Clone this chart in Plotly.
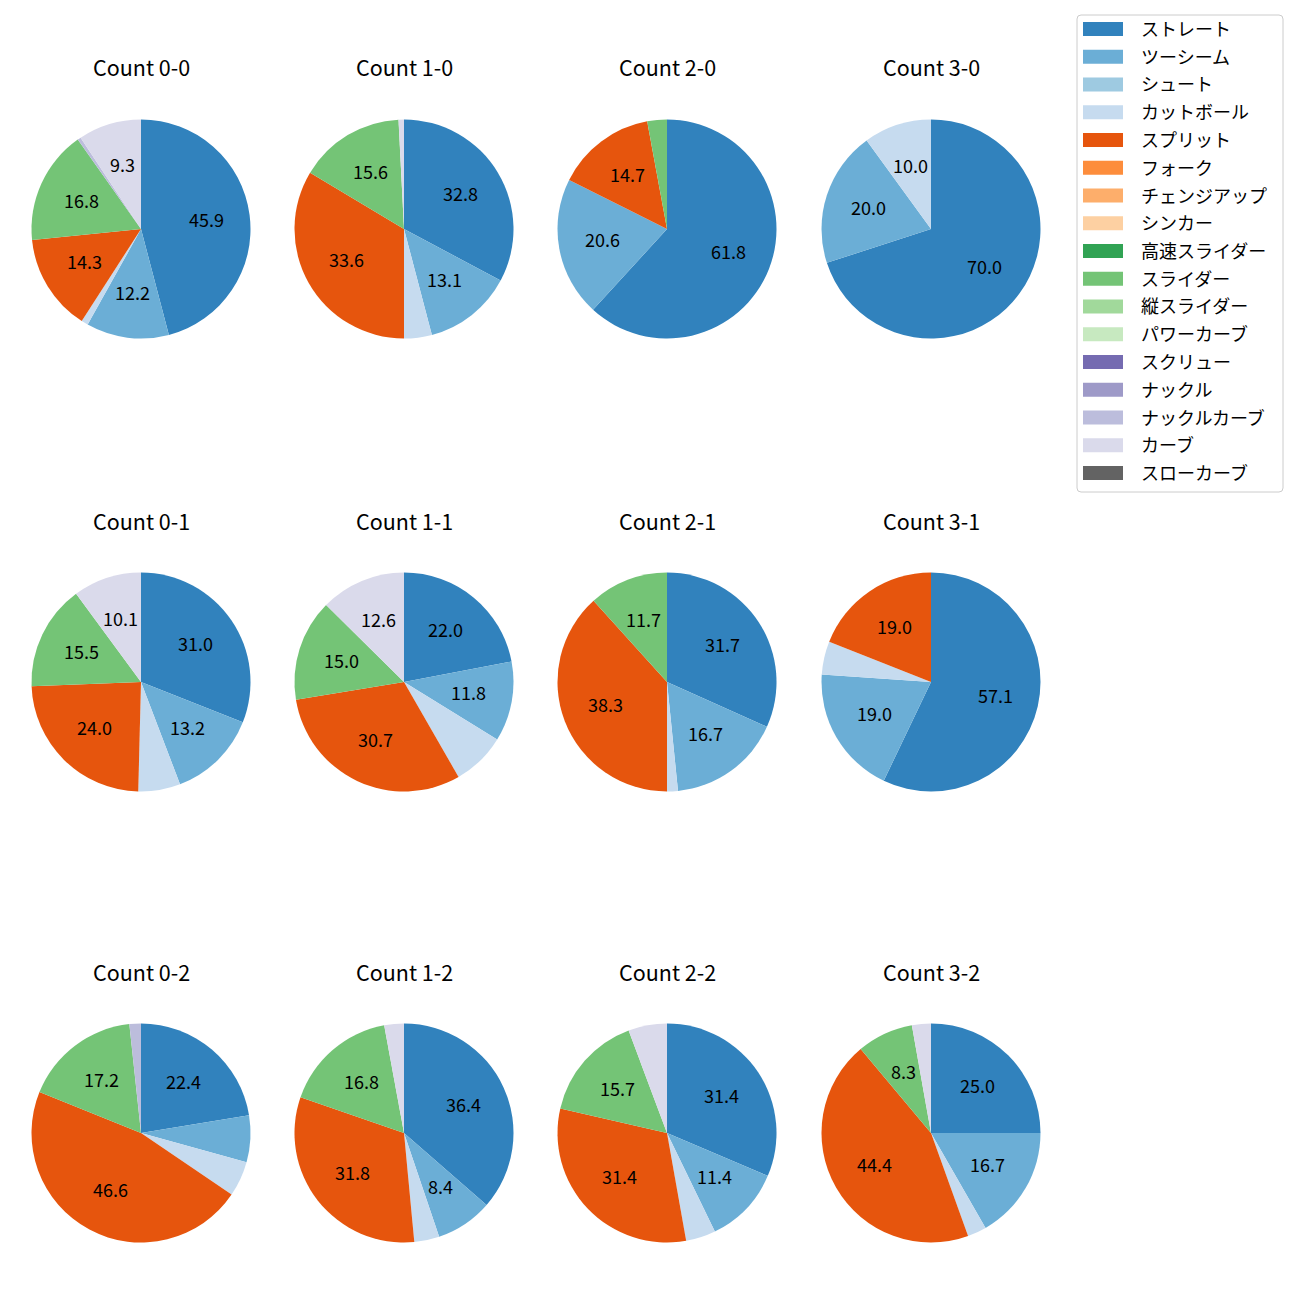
import math
import plotly.graph_objects as go

pitch_types = ["ストレート", "ツーシーム", "シュート", "カットボール", "スプリット", "フォーク",
               "チェンジアップ", "シンカー", "高速スライダー", "スライダー", "縦スライダー",
               "パワーカーブ", "スクリュー", "ナックル", "ナックルカーブ", "カーブ", "スローカーブ"]
colors = ["#3182bd", "#6baed6", "#9ecae1", "#c6dbef", "#e6550d", "#fd8d3c", "#fdae6b", "#fdd0a2",
          "#31a354", "#74c476", "#a1d99b", "#c7e9c0", "#756bb1", "#9e9ac8", "#bcbddc", "#dadaeb",
          "#636363"]

counts = ["0-0", "1-0", "2-0", "3-0",
          "0-1", "1-1", "2-1", "3-1",
          "0-2", "1-2", "2-2", "3-2"]

# percentages per count, keyed by pitch type
count_0_0 = {"ストレート": 45.9, "ツーシーム": 12.2, "カットボール": 1.0, "スプリット": 14.3,
             "スライダー": 16.8, "ナックルカーブ": 0.5, "カーブ": 9.3}
count_1_0 = {"ストレート": 32.8, "ツーシーム": 13.1, "カットボール": 4.1, "スプリット": 33.6,
             "スライダー": 15.6, "カーブ": 0.8}
count_2_0 = {"ストレート": 61.8, "ツーシーム": 20.6, "スプリット": 14.7, "スライダー": 2.9}
count_3_0 = {"ストレート": 70.0, "ツーシーム": 20.0, "カットボール": 10.0}
count_0_1 = {"ストレート": 31.0, "ツーシーム": 13.2, "カットボール": 6.2, "スプリット": 24.0,
             "スライダー": 15.5, "カーブ": 10.1}
count_1_1 = {"ストレート": 22.0, "ツーシーム": 11.8, "カットボール": 7.9, "スプリット": 30.7,
             "スライダー": 15.0, "カーブ": 12.6}
count_2_1 = {"ストレート": 31.7, "ツーシーム": 16.7, "カットボール": 1.6, "スプリット": 38.3,
             "スライダー": 11.7}
count_3_1 = {"ストレート": 57.1, "ツーシーム": 19.0, "カットボール": 4.9, "スプリット": 19.0}
count_0_2 = {"ストレート": 22.4, "ツーシーム": 6.9, "カットボール": 5.2, "スプリット": 46.6,
             "スライダー": 17.2, "ナックルカーブ": 1.7}
count_1_2 = {"ストレート": 36.4, "ツーシーム": 8.4, "カットボール": 3.7, "スプリット": 31.8,
             "スライダー": 16.8, "カーブ": 2.9}
count_2_2 = {"ストレート": 31.4, "ツーシーム": 11.4, "カットボール": 4.4, "スプリット": 31.4,
             "スライダー": 15.7, "カーブ": 5.7}
count_3_2 = {"ストレート": 25.0, "ツーシーム": 16.7, "カットボール": 2.8, "スプリット": 44.4,
             "スライダー": 8.3, "カーブ": 2.8}

data = [count_0_0, count_1_0, count_2_0, count_3_0,
        count_0_1, count_1_1, count_2_1, count_3_1,
        count_0_2, count_1_2, count_2_2, count_3_2]

W = H = 1300
OFF = 8  # page body margin offset
FONT = "Noto Sans CJK JP"
col_cx = [141, 404, 667, 931]
row_cy = [229, 682, 1133]
R = 109.5
LABEL_MIN = 8.0


def px(sx):
    return (sx - OFF) / W


def py(sy):
    return 1 - (sy - OFF) / H


color_of = dict(zip(pitch_types, colors))

fig = go.Figure()
annotations = []
shapes = []
for i, (cnt, d) in enumerate(zip(counts, data)):
    r, c = divmod(i, 4)
    cx, cy = col_cx[c], row_cy[r]
    labels = [p for p in pitch_types if p in d]
    vals = [d[p] for p in labels]
    fig.add_trace(go.Pie(
        labels=labels, values=vals, textinfo="none",
        marker=dict(colors=[color_of[p] for p in labels], line=dict(width=0)),
        sort=False, direction="clockwise", rotation=0,
        domain=dict(x=[px(cx - R), px(cx + R)], y=[py(cy + R), py(cy - R)]),
        showlegend=False, hoverinfo="label+percent",
    ))
    # percentage labels at 0.6 radius along each slice's bisector
    total = sum(vals)
    cum = 0.0
    for v in vals:
        mid = (cum + v / 2) / total * 2 * math.pi
        cum += v
        pct = v / total * 100
        if pct >= LABEL_MIN:
            tx = cx + 0.6 * R * math.sin(mid)
            ty = cy - 0.6 * R * math.cos(mid) - 2
            annotations.append(dict(
                text=f"{pct:.1f}", x=px(tx), y=py(ty), xref="paper", yref="paper",
                showarrow=False, font=dict(size=18, color="black", family=FONT),
                xanchor="center", yanchor="middle"))
    annotations.append(dict(
        text=f"Count {cnt}", x=px(cx), y=py(cy - 162), xref="paper", yref="paper",
        showarrow=False, font=dict(size=21.5, color="black", family=FONT),
        xanchor="center", yanchor="middle"))

# legend box drawn with shapes
bx0, bx1, by0, by1, rad = 1077, 1283, 15, 492, 4
path = (f"M {px(bx0 + rad)},{py(by0)} L {px(bx1 - rad)},{py(by0)} "
        f"Q {px(bx1)},{py(by0)} {px(bx1)},{py(by0 + rad)} "
        f"L {px(bx1)},{py(by1 - rad)} Q {px(bx1)},{py(by1)} {px(bx1 - rad)},{py(by1)} "
        f"L {px(bx0 + rad)},{py(by1)} Q {px(bx0)},{py(by1)} {px(bx0)},{py(by1 - rad)} "
        f"L {px(bx0)},{py(by0 + rad)} Q {px(bx0)},{py(by0)} {px(bx0 + rad)},{py(by0)} Z")
shapes.append(dict(type="path", path=path, xref="paper", yref="paper",
                   line=dict(color="#cccccc", width=1), fillcolor="rgba(255,255,255,0.8)"))
ly0, ldy = 29, 27.75
for i, (p, col) in enumerate(zip(pitch_types, colors)):
    yc = ly0 + ldy * i
    shapes.append(dict(type="rect", xref="paper", yref="paper",
                       x0=px(1083), x1=px(1123), y0=py(yc + 7), y1=py(yc - 7),
                       line=dict(width=0), fillcolor=col))
    annotations.append(dict(
        text=p, x=px(1139), y=py(yc - 1), xref="paper", yref="paper", showarrow=False,
        font=dict(size=18, color="black", family=FONT), xanchor="left", yanchor="middle"))

fig.update_layout(
    width=W, height=H,
    margin=dict(l=0, r=0, t=0, b=0),
    paper_bgcolor="white", plot_bgcolor="white",
    font=dict(family=FONT, color="black"),
    showlegend=False,
    annotations=annotations,
    shapes=shapes,
)

fig.write_html("out.html")
